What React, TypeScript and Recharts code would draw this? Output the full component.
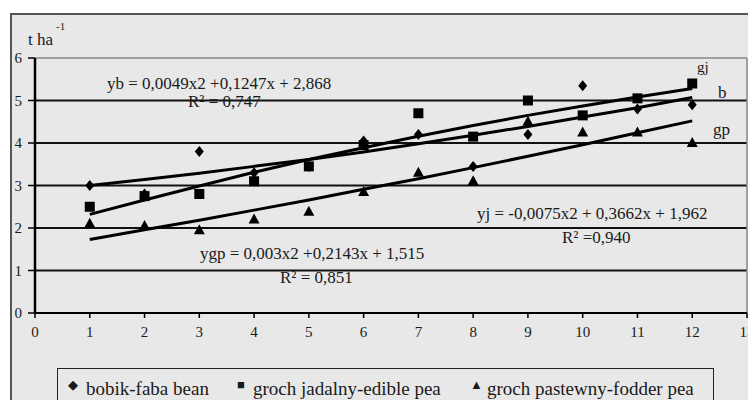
import React from "react";
import { ComposedChart, Line, XAxis, YAxis, ReferenceLine } from "recharts";

// x = kolejne lata / okresy 1..12
const years = [1, 2, 3, 4, 5, 6, 7, 8, 9, 10, 11, 12];
const bobik = [3.0, 2.8, 3.8, 3.3, 3.45, 4.05, 4.2, 3.45, 4.2, 5.35, 4.8, 4.9];
const jadalny = [2.5, 2.75, 2.8, 3.1, 3.45, 3.95, 4.7, 4.15, 5.0, 4.65, 5.05, 5.4];
const pastewny = [2.1, 2.05, 1.95, 2.2, 2.38, 2.85, 3.3, 3.1, 4.5, 4.25, 4.25, 4.0];

// trend lines read at each x
const bobikTrend = [3.0, 3.14, 3.29, 3.45, 3.61, 3.79, 3.98, 4.18, 4.39, 4.61, 4.83, 5.07];
const jadalnyTrend = [2.32, 2.66, 2.99, 3.31, 3.61, 3.89, 4.16, 4.41, 4.65, 4.87, 5.08, 5.28];
const pastewnyTrend = [1.73, 1.96, 2.18, 2.42, 2.66, 2.91, 3.16, 3.42, 3.69, 3.96, 4.24, 4.52];

const xTicks = [0, 1, 2, 3, 4, 5, 6, 7, 8, 9, 10, 11, 12, 13];
const yTicks = [0, 1, 2, 3, 4, 5, 6];
const gridLines = [1, 2, 3, 4, 5];

const seriesNames = ["bobik-faba bean", "groch jadalny-edible pea", "groch pastewny-fodder pea"];

const data = years.map((x, i) => ({
  x,
  bobik: bobik[i],
  jadalny: jadalny[i],
  pastewny: pastewny[i],
  bobikTrend: bobikTrend[i],
  jadalnyTrend: jadalnyTrend[i],
  pastewnyTrend: pastewnyTrend[i],
}));

const serif = "'Liberation Serif', 'Times New Roman', serif";
const ink = "#1a1a1a";

const Diamond = (props: any) => {
  const { cx, cy, index } = props;
  if (cx == null || cy == null) return null;
  return (
    <polygon
      key={`d-${index}`}
      points={`${cx},${cy - 5.5} ${cx + 4.5},${cy} ${cx},${cy + 5.5} ${cx - 4.5},${cy}`}
      fill="#000"
    />
  );
};

const Square = (props: any) => {
  const { cx, cy, index } = props;
  if (cx == null || cy == null) return null;
  return <rect key={`s-${index}`} x={cx - 5} y={cy - 5} width={10} height={10} fill="#000" />;
};

const Triangle = (props: any) => {
  const { cx, cy, index } = props;
  if (cx == null || cy == null) return null;
  return (
    <polygon
      key={`t-${index}`}
      points={`${cx},${cy - 6} ${cx + 5.5},${cy + 4} ${cx - 5.5},${cy + 4}`}
      fill="#000"
    />
  );
};

const Note = ({ x, y, size = 17, children }: any) => (
  <div
    style={{
      position: "absolute",
      left: x,
      top: y,
      fontFamily: serif,
      fontSize: size,
      lineHeight: `${size}px`,
      color: ink,
      whiteSpace: "nowrap",
    }}
  >
    {children}
  </div>
);

const legendMarks = ["◆", "■", "▲"];
const legendMarkX = [68, 237, 470];
const legendTextX = [86, 253, 487];

export default function App() {
  return (
    <div style={{ position: "relative", width: 748, height: 400, overflow: "hidden", background: "#fff" }}>
      <style>{"body{margin:0}"}</style>
      <div
        style={{
          position: "absolute",
          left: 10,
          top: 13,
          width: 760,
          height: 420,
          background: "#e8e8e8",
          border: "2px solid #555",
          boxSizing: "border-box",
        }}
      />
      <div style={{ position: "absolute", left: 0, top: 0 }}>
        <ComposedChart width={748} height={400} data={data} margin={{ top: 58, right: 1, bottom: 57, left: 10 }}>
          <XAxis
            type="number"
            dataKey="x"
            domain={[0, 13]}
            ticks={xTicks}
            interval={0}
            height={30}
            tickSize={5}
            tickMargin={8}
            axisLine={{ stroke: "#000", strokeWidth: 2 }}
            tickLine={{ stroke: "#000", strokeWidth: 1.5 }}
            tick={{ fill: ink, fontSize: 15, fontFamily: serif }}
          />
          <YAxis
            type="number"
            domain={[0, 6]}
            ticks={yTicks}
            interval={0}
            width={25}
            tickSize={7}
            tickMargin={6}
            axisLine={{ stroke: "#000", strokeWidth: 2.5 }}
            tickLine={{ stroke: "#000", strokeWidth: 1.5 }}
            tick={{ fill: ink, fontSize: 15, fontFamily: serif }}
          />
          {gridLines.map((v) => (
            <ReferenceLine key={v} y={v} stroke="#111" strokeWidth={1.8} />
          ))}
          <ReferenceLine y={6} stroke="#888" strokeWidth={1.5} />
          <ReferenceLine x={13} stroke="#888" strokeWidth={1.5} />

          <Line dataKey="bobik" stroke="none" dot={<Diamond />} activeDot={false} isAnimationActive={false} />
          <Line dataKey="jadalny" stroke="none" dot={<Square />} activeDot={false} isAnimationActive={false} />
          <Line dataKey="pastewny" stroke="none" dot={<Triangle />} activeDot={false} isAnimationActive={false} />

          <Line dataKey="bobikTrend" stroke="#000" strokeWidth={3} dot={false} activeDot={false} isAnimationActive={false} />
          <Line dataKey="jadalnyTrend" stroke="#000" strokeWidth={3} dot={false} activeDot={false} isAnimationActive={false} />
          <Line dataKey="pastewnyTrend" stroke="#000" strokeWidth={3} dot={false} activeDot={false} isAnimationActive={false} />
        </ComposedChart>
      </div>

      {/* axis unit */}
      <Note x={28} y={31} size={17}>t ha</Note>
      <Note x={56} y={21} size={11}>-1</Note>

      {/* regression equations */}
      <Note x={107} y={75}>yb = 0,0049x2 +0,1247x + 2,868</Note>
      <Note x={188} y={93}>R² = 0,747</Note>
      <Note x={477} y={205}>yj = -0,0075x2 + 0,3662x + 1,962</Note>
      <Note x={562} y={229}>R² =0,940</Note>
      <Note x={200} y={245}>ygp = 0,003x2 +0,2143x + 1,515</Note>
      <Note x={280} y={269}>R² = 0,851</Note>

      {/* trend line tags */}
      <Note x={697} y={60} size={15}>gj</Note>
      <Note x={718} y={84} size={17}>b</Note>
      <Note x={713} y={121} size={17}>gp</Note>

      {/* legend */}
      <div
        style={{
          position: "absolute",
          left: 57,
          top: 368,
          width: 657,
          height: 60,
          border: "1.5px solid #222",
          boxSizing: "border-box",
        }}
      />
      {seriesNames.map((name, i) => (
        <React.Fragment key={name}>
          <Note x={legendMarkX[i]} y={378} size={13}>{legendMarks[i]}</Note>
          <Note x={legendTextX[i]} y={379} size={19}>{name}</Note>
        </React.Fragment>
      ))}
    </div>
  );
}
